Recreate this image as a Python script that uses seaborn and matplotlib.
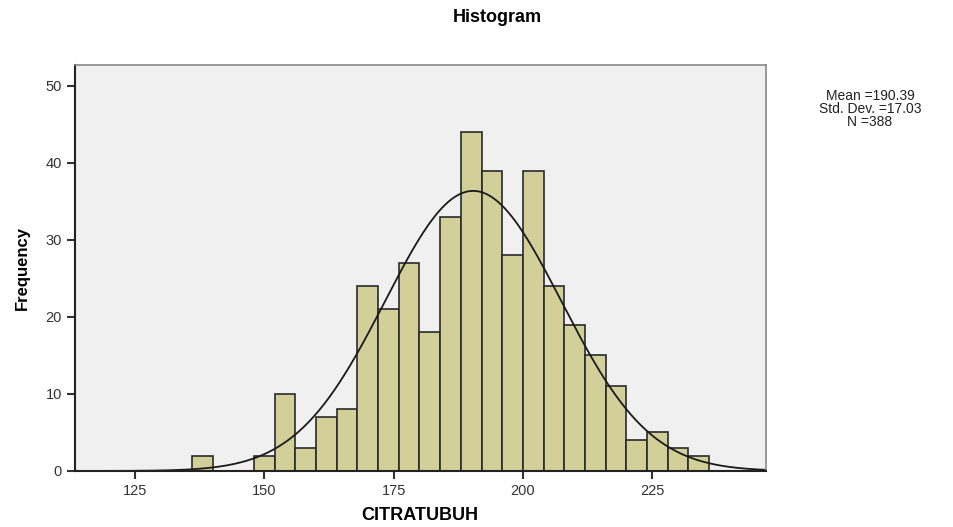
"""SPSS style histogram of CITRATUBUH with a normal curve."""

import numpy as np
import pandas as pd
import matplotlib
matplotlib.use('Agg')
import matplotlib.pyplot as plt
import seaborn as sns

# Data
bin_left = [136, 148, 152, 156, 160, 164, 168, 172, 176, 180, 184, 188,
            192, 196, 200, 204, 208, 212, 216, 220, 224, 228, 232]
counts = [2, 2, 10, 3, 7, 8, 24, 21, 27, 18, 33, 44,
          39, 28, 39, 24, 19, 15, 11, 4, 5, 3, 2]
bin_width = 4
mean_val = 190.39
std_val = 17.03
n_val = 388
x_ticks = [125, 150, 175, 200, 225]
y_ticks = [0, 10, 20, 30, 40, 50]

sns.set_style('ticks')
plt.rcParams['font.family'] = ['Liberation Sans', 'DejaVu Sans']

fig = plt.figure(figsize=(9.54, 5.27), dpi=100)
ax = fig.add_axes([0.0786, 0.1063, 0.7243, 0.7704])
ax.set_facecolor('#f0f0f0')

# Bars: one sample per bin centre, weighted by its count
df = pd.DataFrame({'centre': np.array(bin_left, dtype=float) + bin_width / 2,
                   'count': np.array(counts, dtype=float)})
sns.histplot(data=df, x='centre', weights='count', binwidth=bin_width,
             binrange=(136, 236), color='#d3cf98', edgecolor='#2a2a2a',
             linewidth=1.2, alpha=1, ax=ax)

# Normal curve scaled to counts
xs = np.linspace(113.4, 247, 400)
ys = n_val * bin_width / (std_val * np.sqrt(2 * np.pi)) * np.exp(-0.5 * ((xs - mean_val) / std_val) ** 2)
sns.lineplot(x=xs, y=ys, color='#1a1a1a', linewidth=1.3, ax=ax)

ax.set_xlim(113.4, 247)
ax.set_ylim(0, 52.7)
ax.set_xticks(x_ticks)
ax.set_yticks(y_ticks)
ax.tick_params(axis='both', labelsize=10.5, colors='#333333', length=6, width=1.5)
for side in ['left', 'bottom']:
    ax.spines[side].set_color('#222222')
    ax.spines[side].set_linewidth(1.5)
for side in ['top', 'right']:
    ax.spines[side].set_visible(True)
    ax.spines[side].set_color('#888888')
    ax.spines[side].set_linewidth(1.2)

ax.set_xlabel('')
ax.set_ylabel('')
fig.text(420 / 954, 1 - 516 / 527, 'CITRATUBUH', ha='center', va='center',
         fontsize=13, fontweight='bold', color='black')
fig.text(22 / 954, 1 - 268 / 527, 'Frequency', ha='center', va='center',
         rotation=90, fontsize=12, fontweight='bold', color='black')
fig.text(497 / 954, 1 - 18 / 527, 'Histogram', ha='center', va='center',
         fontsize=13, fontweight='bold', color='black')
fig.text(870 / 954, 1 - 109 / 527, 'Mean =190.39\nStd. Dev. =17.03\nN =388',
         ha='center', va='center', fontsize=10, linespacing=0.9, color='#222222')

fig.savefig('out.png', dpi=100)
